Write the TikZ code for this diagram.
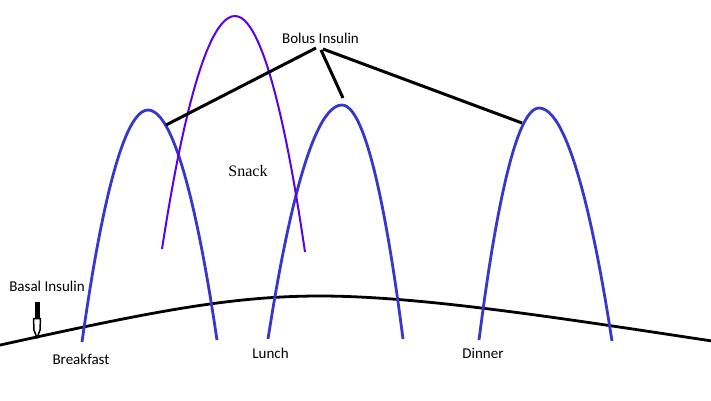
\documentclass[tikz,border=0pt]{standalone}
\usepackage{fontspec}
\setmainfont{Carlito}
\newfontfamily\snackfont{Liberation Serif}
\begin{document}
\begin{tikzpicture}[x=1pt,y=-1pt,
  meal/.style={draw=mealblue,line width=2.8pt},
  snackcurve/.style={draw=snackviolet,line width=2pt},
  blk/.style={draw=black,line width=3pt},
  lbl/.style={font=\fontsize{15}{17}\selectfont,inner sep=0pt,text=black},
  slbl/.style={font=\snackfont\fontsize{16}{18}\selectfont,inner sep=0pt,text=black}]
\definecolor{mealblue}{RGB}{55,55,205}
\definecolor{snackviolet}{RGB}{90,0,235}
\useasboundingbox (0,0) rectangle (711,400);
\fill[white] (0,0) rectangle (711,400);
% basal line
\coordinate (baseL) at (-2,345.5);
\coordinate (baseTop) at (320,296);
\coordinate (baseR) at (712,341);
\draw[blk,line width=2.8pt] (baseL) .. controls (150,312) and (230,296) .. (baseTop) .. controls (420,296) and (560,318) .. (baseR);
% meal curves
\coordinate (bL) at (82,342); \coordinate (bP) at (148,110); \coordinate (bR) at (217,340);
\coordinate (lL) at (268,339); \coordinate (lP) at (342,105); \coordinate (lR) at (403,339);
\coordinate (dL) at (479,340); \coordinate (dP) at (539,108); \coordinate (dR) at (612,341);
\coordinate (sL) at (162,249); \coordinate (sP) at (235,16); \coordinate (sR) at (305,252);
\draw[meal] (bL) parabola bend (bP) (bR);
\draw[meal] (lL) parabola bend (lP) (lR);
\draw[meal] (dL) parabola bend (dP) (dR);
\draw[snackcurve] (sL) parabola bend (sP) (sR);
% labels
\node[lbl] (bolus) at (320.5,38) {Bolus Insulin};
\node[lbl] (basal) at (47,286) {Basal Insulin};
\node[lbl] (breakfast) at (81,359.5) {Breakfast};
\node[lbl] (lunch) at (270.5,353.5) {Lunch};
\node[lbl] (dinner) at (483,353.5) {Dinner};
\node[slbl] (snack) at (248,171) {Snack};
% bolus connectors
\coordinate (bo1) at (316,48);
\coordinate (bo2) at (321,50);
\coordinate (bo3) at (323,49);
\coordinate (tb) at (166,125);
\coordinate (tl) at (343,98);
\coordinate (td) at (522,123);
\draw[blk] (bo1) -- (tb);
\draw[blk] (bo2) -- (tl);
\draw[blk] (bo3) -- (td);
% basal arrow
\coordinate (aTop) at (37,302);
\coordinate (aMid) at (37,320);
\draw[black,line width=5pt] (aTop) -- (aMid);
\draw[black,line width=1.5pt,fill=white,line join=round] (33.5,318.5) -- (40.5,318.5) -- (40,330) -- (37,338) -- (34,330) -- cycle;
\end{tikzpicture}
\end{document}
